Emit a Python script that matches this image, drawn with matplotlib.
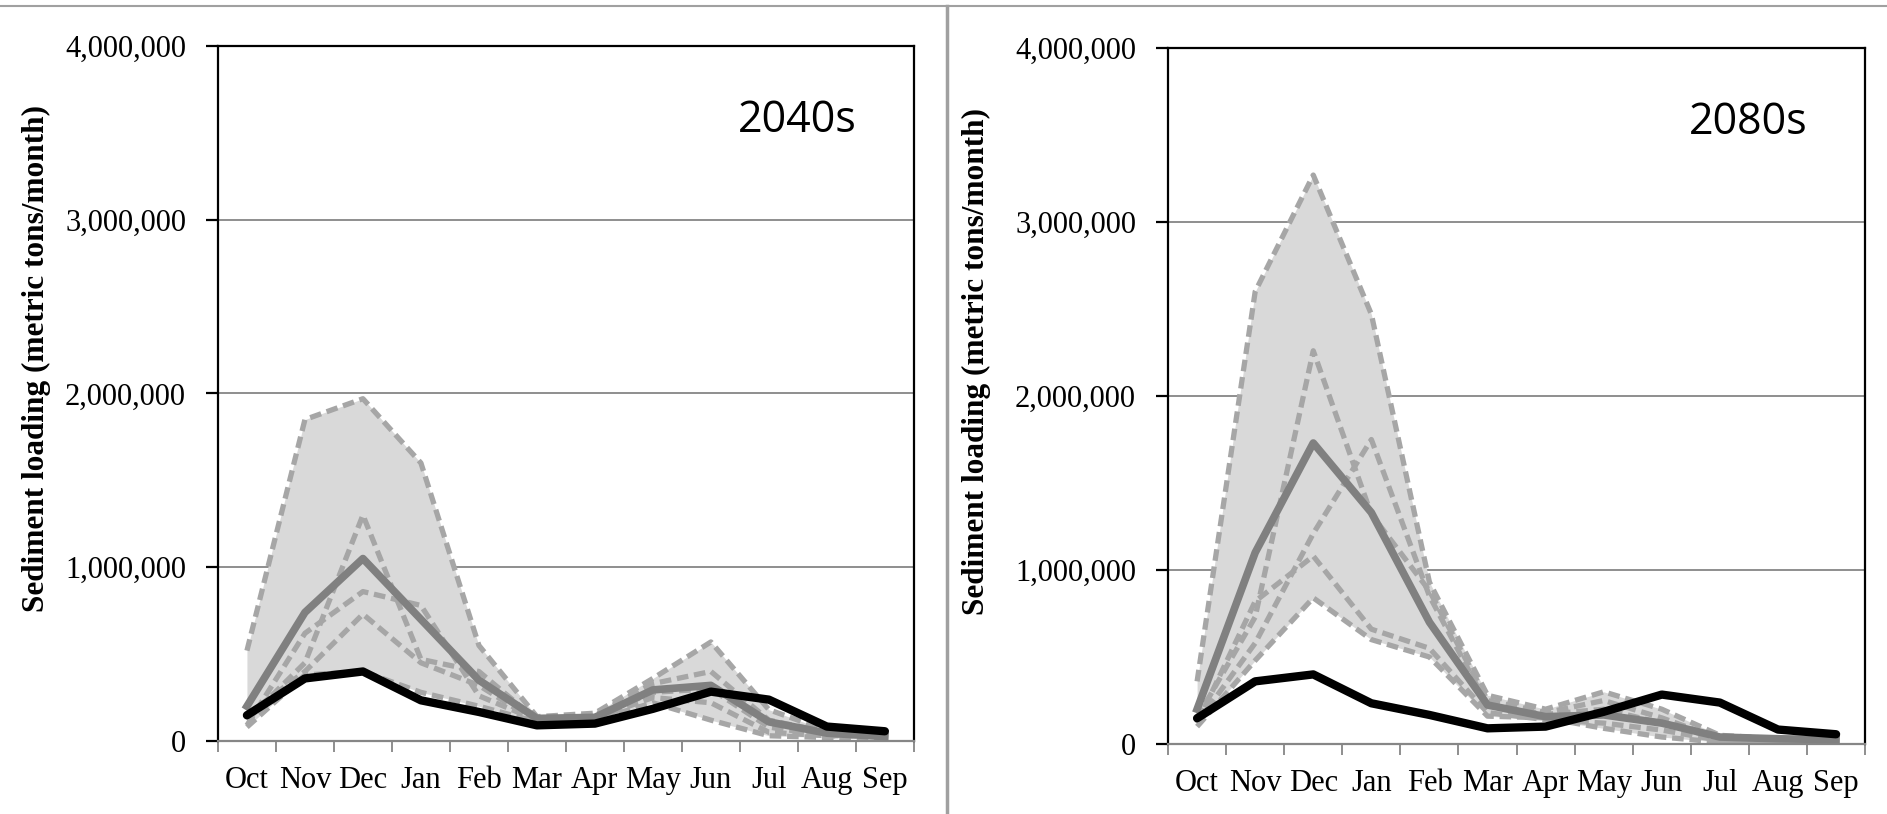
import numpy as np
import matplotlib.pyplot as plt
from matplotlib.lines import Line2D
from matplotlib.ticker import FuncFormatter

# water-year months
months = ['Oct', 'Nov', 'Dec', 'Jan', 'Feb', 'Mar', 'Apr', 'May', 'Jun', 'Jul', 'Aug', 'Sep']

# monthly sediment loading, million metric tons/month
historical = [0.148, 0.36, 0.40, 0.234, 0.167, 0.09, 0.10, 0.185, 0.284, 0.238, 0.083, 0.056]

# 2040s projections
mean_2040s = [0.20, 0.74, 1.05, 0.70, 0.35, 0.13, 0.136, 0.294, 0.32, 0.11, 0.045, 0.025]
gcm1_2040s = [0.52, 1.85, 1.97, 1.60, 0.55, 0.14, 0.16, 0.36, 0.57, 0.18, 0.06, 0.05]
gcm2_2040s = [0.12, 0.45, 1.30, 0.47, 0.40, 0.12, 0.15, 0.33, 0.40, 0.12, 0.05, 0.04]
gcm3_2040s = [0.09, 0.62, 0.86, 0.78, 0.26, 0.12, 0.14, 0.28, 0.30, 0.08, 0.03, 0.03]
gcm4_2040s = [0.15, 0.40, 0.73, 0.45, 0.32, 0.11, 0.13, 0.25, 0.22, 0.05, 0.03, 0.03]
gcm5_2040s = [0.08, 0.38, 0.40, 0.28, 0.20, 0.11, 0.12, 0.22, 0.12, 0.03, 0.02, 0.02]

# 2080s projections
mean_2080s = [0.20, 1.10, 1.73, 1.33, 0.70, 0.224, 0.157, 0.167, 0.12, 0.04, 0.03, 0.025]
gcm1_2080s = [0.36, 2.60, 3.27, 2.47, 0.93, 0.28, 0.20, 0.30, 0.20, 0.05, 0.03, 0.03]
gcm2_2080s = [0.15, 0.73, 2.26, 1.32, 0.88, 0.25, 0.18, 0.25, 0.15, 0.03, 0.02, 0.02]
gcm3_2080s = [0.12, 0.58, 1.21, 1.75, 0.85, 0.22, 0.17, 0.20, 0.12, 0.03, 0.02, 0.02]
gcm4_2080s = [0.12, 0.82, 1.08, 0.66, 0.55, 0.18, 0.14, 0.12, 0.08, 0.02, 0.02, 0.02]
gcm5_2080s = [0.10, 0.48, 0.84, 0.60, 0.50, 0.16, 0.15, 0.09, 0.04, 0.01, 0.01, 0.01]

panels = [
    ('2040s', mean_2040s, [gcm1_2040s, gcm2_2040s, gcm3_2040s, gcm4_2040s, gcm5_2040s]),
    ('2080s', mean_2080s, [gcm1_2080s, gcm2_2080s, gcm3_2080s, gcm4_2080s, gcm5_2080s]),
]

serif = 'Liberation Serif'
fig = plt.figure(figsize=(18.87, 8.14), dpi=100)
rects = [[0.1155, 0.0897, 0.3688, 0.8538], [0.619, 0.086, 0.3694, 0.855]]
label_x = [-0.2405, -0.254]

x = np.arange(len(months)) + 0.5
for rect, lx, (period, mean, runs) in zip(rects, label_x, panels):
    ax = fig.add_axes(rect)
    runs = np.array(runs) * 1e6

    ax.fill_between(x, runs.min(axis=0), runs.max(axis=0), color='#d9d9d9', lw=0, zorder=1)
    for r in runs:
        ax.plot(x, r, color='#a6a6a6', lw=3.8, dashes=(2.2, 1.1), zorder=2)
    ax.plot(x, np.array(mean) * 1e6, color='#808080', lw=5.5, zorder=3)
    ax.plot(x, np.array(historical) * 1e6, color='black', lw=6, zorder=4,
            solid_capstyle='round')

    ax.set_xlim(0, 12)
    ax.set_ylim(0, 4e6)
    ax.set_yticks([0, 1e6, 2e6, 3e6, 4e6])
    ax.yaxis.set_major_formatter(FuncFormatter(lambda v, p: f'{v:,.0f}'))
    ax.grid(axis='y', color='#868686', lw=1.3, zorder=0.5)
    ax.set_axisbelow(True)

    # category boundaries carry the tick marks, centres carry the labels
    ax.set_xticks(np.arange(13))
    ax.set_xticklabels([])
    ax.set_xticks(x, minor=True)
    ax.set_xticklabels(months, minor=True, fontfamily=serif, fontsize=22)
    ax.tick_params(axis='x', which='major', direction='out', length=8, width=1.3, color='#868686')
    ax.tick_params(axis='x', which='minor', length=0, pad=18)
    ax.tick_params(axis='y', direction='out', length=9, width=1.6, color='black', pad=14)
    for lab in ax.get_yticklabels():
        lab.set_fontfamily(serif)
        lab.set_fontsize(22)

    for side in ['left', 'top', 'right']:
        ax.spines[side].set_color('black')
        ax.spines[side].set_linewidth(1.6)
    ax.spines['bottom'].set_color('#868686')
    ax.spines['bottom'].set_linewidth(1.6)

    ax.set_ylabel('Sediment loading (metric tons/month)', fontfamily=serif,
                  fontweight='bold', fontsize=22.5)
    ax.yaxis.set_label_coords(lx, 0.55)
    ax.text(0.832, 0.893, period, transform=ax.transAxes, ha='center', va='center',
            fontsize=31, fontfamily='Open Sans')

# panel frame lines
fig.add_artist(Line2D([0, 1], [1 - 6 / 814] * 2, color='#a0a0a0', lw=1.5))
fig.add_artist(Line2D([947 / 1887] * 2, [0, 1 - 6 / 814], color='#a0a0a0', lw=2.5))

fig.savefig('out.png', dpi=100)
